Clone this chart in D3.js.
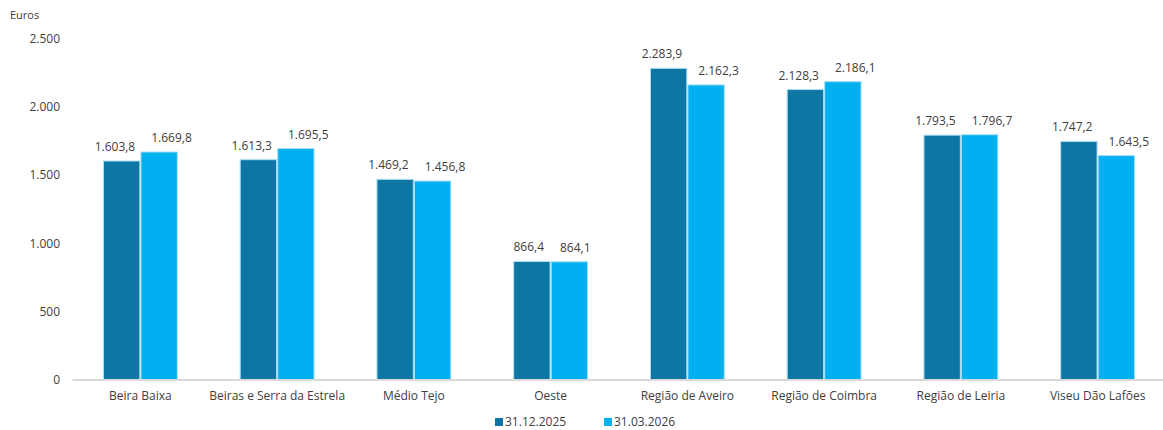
<!DOCTYPE html>
<html>
<head>
<meta charset="utf-8">
<script src="https://cdn.jsdelivr.net/npm/d3@7"></script>
<style>
  body { margin: 0; background: #fff; }
  text { font-family: "Open Sans", "Noto Sans", sans-serif; fill: #404040; }
</style>
</head>
<body>
<svg id="chart" width="1163" height="430"></svg>
<script>
const categories = ["Beira Baixa", "Beiras e Serra da Estrela", "Médio Tejo", "Oeste",
  "Região de Aveiro", "Região de Coimbra", "Região de Leiria", "Viseu Dão Lafões"];
const seriesNames = ["31.12.2025", "31.03.2026"];
const values2025 = [1603.8, 1613.3, 1469.2, 866.4, 2283.9, 2128.3, 1793.5, 1747.2];
const values2026 = [1669.8, 1695.5, 1456.8, 864.1, 2162.3, 2186.1, 1796.7, 1643.5];
const yTicks = [0, 500, 1000, 1500, 2000, 2500];
const colors = ["#0e76a2", "#00b0f0"];

const svg = d3.select("#chart");
const fmt = d3.formatLocale({ decimal: ",", thousands: ".", grouping: [3], currency: ["", ""] });
const fmtVal = fmt.format(",.1f");
const fmtTick = fmt.format(",.0f");

const x = d3.scaleBand().domain(categories).range([72, 1166]).padding(0);
const y = d3.scaleLinear().domain([0, 2500]).range([379.5, 38.9]);
const inner = d3.scaleBand().domain([0, 1]).range([0, x.bandwidth() * 0.54]).paddingInner(0.03);
const offset = x.bandwidth() * 0.23;

// y axis labels (no line)
const yAxis = svg.append("g")
  .attr("transform", "translate(60,0)")
  .call(d3.axisLeft(y).tickValues(yTicks).tickFormat(fmtTick).tickSize(0).tickPadding(0));
yAxis.select(".domain").remove();
yAxis.selectAll("text").style("font-size", "12px").style("fill", "#404040");

svg.append("text").attr("x", 10).attr("y", 19).style("font-size", "11px").text("Euros");

// bars
const data = categories.map((c, i) => ({ cat: c, vals: [values2025[i], values2026[i]] }));
const groups = svg.selectAll(".grp").data(data).enter().append("g")
  .attr("transform", d => `translate(${x(d.cat) + offset},0)`);

groups.selectAll("rect").data(d => d.vals).enter().append("rect")
  .attr("x", (v, j) => inner(j))
  .attr("y", v => y(v))
  .attr("width", inner.bandwidth())
  .attr("height", v => y(0) - y(v))
  .attr("fill", (v, j) => colors[j])
  .attr("stroke", "#a9def5")
  .attr("stroke-width", 1);

// value labels, pushed apart sideways when the pair would collide
groups.each(function (d) {
  const g = d3.select(this);
  const labels = d.vals.map((v, j) => g.append("text")
    .attr("x", inner(j) + inner.bandwidth() / 2)
    .attr("y", y(v) - 10)
    .attr("text-anchor", "middle")
    .style("font-size", "12px")
    .text(fmtVal(v)));
  const w = labels.map(l => l.node().getComputedTextLength());
  const dy = Math.abs(y(d.vals[0]) - y(d.vals[1]));
  const need = (w[0] + w[1]) / 2 + 16;
  const have = inner(1) - inner(0);
  if (dy < 24 && need > have) {
    const push = need - have;
    labels[0].attr("x", inner(0) + inner.bandwidth() / 2 - push * 0.35);
    labels[1].attr("x", inner(1) + inner.bandwidth() / 2 + push * 0.65);
  }
});

// x axis
const xAxis = svg.append("g")
  .attr("transform", `translate(0,${y(0)})`)
  .call(d3.axisBottom(x).tickSize(0).tickPadding(12));
xAxis.select(".domain").attr("stroke", "#d9d9d9").attr("stroke-width", 2);
xAxis.selectAll("text").style("font-size", "12px").style("fill", "#404040");

// legend
const legendX = [495, 604];
const legend = svg.selectAll(".leg").data(seriesNames).enter().append("g")
  .attr("transform", (d, i) => `translate(${legendX[i]},0)`);
legend.append("rect").attr("x", 0).attr("y", 418).attr("width", 8).attr("height", 8)
  .attr("fill", (d, i) => colors[i]);
legend.append("text").attr("x", 10).attr("y", 426).style("font-size", "12px").text(d => d);
</script>
</body>
</html>
